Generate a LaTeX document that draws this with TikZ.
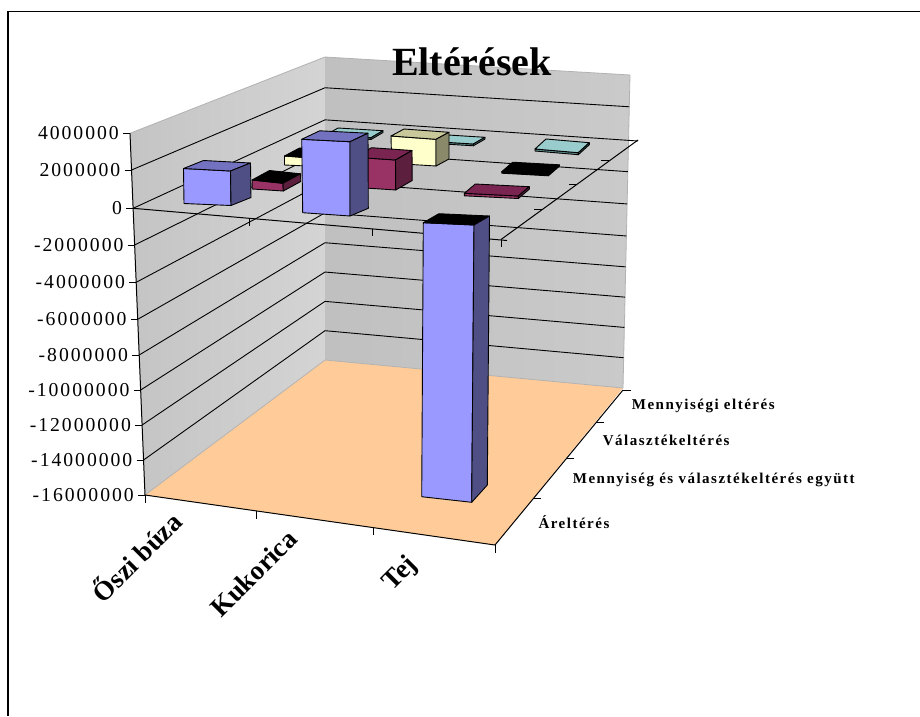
\documentclass[tikz,border=0pt]{standalone}
\usepackage{fontspec}
\setmainfont{Liberation Serif}
\newfontfamily\tickfont[LetterSpace=10]{Liberation Serif}
\newfontfamily\labfont[LetterSpace=10]{Liberation Serif}
\usetikzlibrary{calc}

\definecolor{floorc}{HTML}{FFCC99}
\definecolor{bluef}{HTML}{9999FF}
\definecolor{bluet}{HTML}{7272C0}
\definecolor{blues}{HTML}{4F4F85}
\definecolor{plumf}{HTML}{993366}
\definecolor{plumt}{HTML}{7A2451}
\definecolor{plums}{HTML}{5C1F3D}
\definecolor{yelf}{HTML}{FFFFCC}
\definecolor{yelt}{HTML}{C8C89B}
\definecolor{yels}{HTML}{8A8A6A}
\definecolor{turt}{HTML}{99CCCC}
\definecolor{turf}{HTML}{5F8F8F}
\definecolor{wallA}{HTML}{C4C4C4}
\definecolor{wallB}{HTML}{D4D4D4}
\definecolor{wallC}{HTML}{C0C0C0}
\definecolor{wallD}{HTML}{DEDEDE}
\definecolor{wallE}{HTML}{CACACA}

% box: front, top, side colours; front TL, TR, BR, BL; depth at top; depth at bottom
\newcommand\xlbox[9]{%
  \filldraw[barface,fill=#1] #4 -- #5 -- #6 -- #7 -- cycle;
  \filldraw[barface,fill=#2] #4 -- #5 -- ($#5+#8$) -- ($#4+#8$) -- cycle;
  \filldraw[barface,fill=#3] #5 -- ($#5+#8$) -- ($#6+#9$) -- #6 -- cycle;
}

\begin{document}
\begin{tikzpicture}[x=1pt,y=-1pt,
  grid/.style={black,line width=0.9pt},
  axisline/.style={black,line width=1pt},
  tickmark/.style={black,line width=1pt},
  wallrim/.style={gray!60,line width=0.8pt},
  barface/.style={draw=black,line width=0.9pt,line join=round},
  vallab/.style={anchor=east,font=\tickfont\fontsize{19.7}{20}\selectfont,inner sep=0pt},
  serlab/.style={anchor=base west,font=\labfont\bfseries\fontsize{15}{16}\selectfont,inner sep=0pt},
  catlab/.style={anchor=base east,rotate=45,font=\bfseries\fontsize{27}{29}\selectfont,inner sep=0pt},
  titlelab/.style={anchor=base,font=\bfseries\fontsize{40}{44}\selectfont,inner sep=0pt},
]
\useasboundingbox (0,0) rectangle (920,716);

% outer frame
\draw[line width=1.3pt] (8,716) -- (8,11.5) -- (920,11.5);

% walls and floor
\shade[left color=wallA,right color=wallB] (130,133.3) -- (325,57) -- (325,360) -- (145,495) -- cycle;
\shade[left color=wallC,middle color=wallD,right color=wallE] (325,57) -- (630,75) -- (623,388) -- (325,360) -- cycle;
\fill[floorc] (145,495) -- (325,360) -- (623,388) -- (495,545) -- cycle;
\draw[wallrim] (130,133.3) -- (325,57) -- (630,75) -- (623,388);
\draw[wallrim] (145,495) -- (325,360) -- (623,388);

% value scale: ticks, labels and gridlines on both walls
\foreach \yy/\lab [count=\i] in {133.3/4000000,170/2000000,208.3/0,245/-2000000,282.3/-4000000,319.3/-6000000,355/-8000000,390/-10000000,425/-12000000,460/-14000000,495/-16000000}{
  \pgfmathsetmacro\vt{(\yy-133.3)/361.7}
  \pgfmathsetmacro\xx{130+15*\vt}
  \coordinate (vf\i) at (\xx,\yy);
  \coordinate (vb\i) at (325,{57+303*\vt});
  \coordinate (vr\i) at ({630-7*\vt},{75+313*\vt});
  \draw[tickmark] (\xx-7,\yy) -- (vf\i);
  \node[vallab] (vl\i) at (\xx-11,\yy) {\lab};
}
\foreach \i in {2,4,5,6,7,8,9,10}{
  \draw[grid] (vf\i) -- (vb\i) -- (vr\i);
}
\coordinate (zr) at (638,141);
\draw[grid] (vf3) -- (vb3) -- (zr);

% zero plane: front and right edges with ticks
\coordinate (zf) at (501,239.5);
\draw[axisline] (vf3) -- (507,240.5);
\draw[axisline] (zf) -- (638,140);
\foreach \px/\py in {249.4/218.2,372.2/228.9,501/239.5}{
  \draw[tickmark] (\px,\py) -- (\px,\py+7.5);
}
\foreach \px/\py in {542.1/209.6,577.2/184.1,609/160.9}{
  \draw[tickmark] (\px-8,\py) -- (\px,\py);
}

% floor axes with ticks
\coordinate (fl) at (145,495);
\coordinate (fr) at (495,545);
\coordinate (bk) at (623,390);
\draw[axisline] (vf1) -- (fl);
\draw[axisline] (fl) -- (fr) -- (bk);
\foreach \px/\py in {145/495,256.7/511,373.2/527.6,495/545}{
  \draw[tickmark] (\px,\py) -- (\px,\py+7.5);
}
\foreach \px/\py in {533.4/498.5,566.3/458.7,596.1/422.6,623/390}{
  \draw[tickmark] (\px,\py) -- (\px+8,\py);
}

% back row
\xlbox{turf}{turt}{turf}{(326,135)}{(371,137.7)}{(371,139.5)}{(326,136.8)}{(12,-7)}{(12,-7)}
\xlbox{turf}{turt}{turf}{(433,141.5)}{(473.3,144)}{(473.3,145.8)}{(433,143.3)}{(11.7,-6.7)}{(11.7,-6.7)}
\xlbox{turf}{turt}{turf}{(535,149)}{(578.3,152.7)}{(578.3,154.7)}{(535,151)}{(11,-10)}{(11,-10)}

% third row
\xlbox{yelf}{black}{yels}{(284.5,156)}{(318,158.5)}{(318,166.5)}{(284.5,165)}{(15,-8)}{(15,-8)}
\xlbox{yelf}{yelt}{yels}{(391,136)}{(436,139.3)}{(436,166)}{(391.7,163.3)}{(13,-7)}{(13,-7)}
\xlbox{black}{black}{black}{(501.7,171.7)}{(548.3,174.3)}{(548.3,175.8)}{(501.7,173.2)}{(11,-9.5)}{(11,-9.5)}

% second row
\xlbox{plumf}{black}{plums}{(252,180)}{(283,183.3)}{(283.3,191)}{(252.3,189)}{(17.5,-9.5)}{(17.5,-9.5)}
\xlbox{plumf}{plumt}{plums}{(355,157.2)}{(395.5,160)}{(395.7,190)}{(355,187.3)}{(16.5,-9.5)}{(16.5,-9.5)}
\xlbox{plumf}{plumt}{plums}{(464.3,193.3)}{(518.3,196)}{(518.3,198.5)}{(464.3,195.8)}{(11,-9.3)}{(11,-9.3)}

% front row
\xlbox{bluef}{bluet}{blues}{(183.5,168.5)}{(230.5,171)}{(231,205.5)}{(184,203.5)}{(20,-8)}{(20,-8)}
\xlbox{bluef}{bluet}{blues}{(301.7,139.3)}{(350,141.7)}{(350,216)}{(302.7,212.7)}{(18,-8.5)}{(18.3,-7.7)}
\xlbox{bluef}{black}{blues}{(423.3,222.7)}{(474,225)}{(471.7,502.3)}{(421.7,496.7)}{(15.5,-9)}{(15.6,-17.3)}

% title
\node[titlelab] (title) at (472,75) {Eltérések};

% series names
\node[serlab] (s4) at (631.7,409.3) {Mennyiségi eltérés};
\node[serlab] (s3) at (602.7,445) {Választékeltérés};
\node[serlab] (s2) at (572.7,483.3) {Mennyiség és választékeltérés együtt};
\node[serlab] (s1) at (538.3,528.3) {Áreltérés};

% category names
\node[catlab] (c1) at (184,524) {Őszi búza};
\node[catlab] (c2) at (299,541) {Kukorica};
\node[catlab] (c3) at (418,566) {Tej};
\end{tikzpicture}
\end{document}
